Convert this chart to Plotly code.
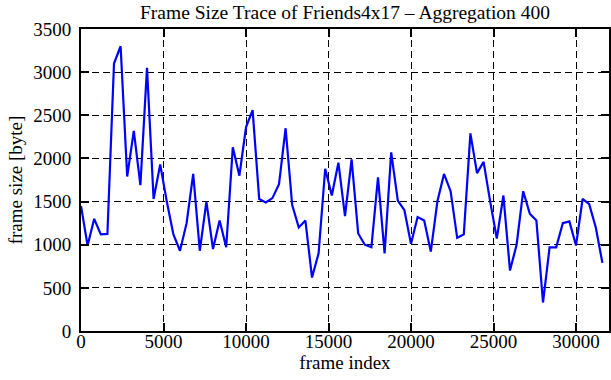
import plotly.graph_objects as go

frame_index = list(range(0, 32000, 400))
frame_size = [
    1450, 990, 1300, 1120, 1125, 3100, 3300, 1790, 2320, 1690,
    3050, 1530, 1930, 1500, 1120, 930, 1250, 1820, 930, 1500,
    950, 1280, 970, 2130, 1800, 2360, 2560, 1530, 1490, 1540,
    1700, 2350, 1460, 1200, 1280, 620, 900, 1880, 1570, 1950,
    1330, 1990, 1130, 1000, 970, 1780, 900, 2070, 1510, 1400,
    1010, 1320, 1280, 920, 1500, 1820, 1620, 1080, 1120, 2290,
    1830, 1960, 1500, 1070, 1570, 700, 1000, 1620, 1360, 1280,
    330, 970, 970, 1250, 1270, 990, 1530, 1470, 1200, 790,
]
x_ticks = [0, 5000, 10000, 15000, 20000, 25000, 30000]
x_tick_labels = ["0", "5000", "10000", "15000", "20000", "25000", "30000"]
y_ticks = [0, 500, 1000, 1500, 2000, 2500, 3000, 3500]
y_tick_labels = ["0", "500", "1000", "1500", "2000", "2500", "3000", "3500"]

title_text = "Frame Size Trace of Friends4x17 \u2013 Aggregation 400"
x_title = "frame index"
y_title = "frame size [byte]"

family = "Liberation Serif, Times New Roman, serif"
font = dict(family=family, size=19, color="black")
title_font = dict(family=family, size=19.5, color="black")

fig = go.Figure(go.Scatter(
    x=frame_index, y=frame_size, mode="lines",
    line=dict(color="#0000ff", width=2.2), showlegend=False,
))

axis_common = dict(
    showline=True, linecolor="black", linewidth=2, mirror="ticks",
    ticks="inside", ticklen=8, tickwidth=2, tickcolor="black",
    showgrid=True, gridcolor="black", gridwidth=1, griddash="7px,4px",
    zeroline=False, tickfont=font, automargin=False,
)

fig.update_layout(
    width=611, height=380,
    margin=dict(l=81, r=2, t=29, b=49),
    paper_bgcolor="white", plot_bgcolor="white",
    font=font,
    title=dict(text=title_text, x=0.5, xref="paper", xanchor="center",
               y=0.968, yanchor="middle", font=title_font),
    xaxis=dict(range=[0, 32000], tickvals=x_ticks, ticktext=x_tick_labels,
               ticklabelstandoff=-8,
               title=dict(text=x_title, standoff=0, font=font), **axis_common),
    yaxis=dict(range=[0, 3500], tickvals=y_ticks, ticktext=y_tick_labels,
               ticklabelstandoff=4,
               title=dict(text=y_title, standoff=6, font=font), **axis_common),
)

fig.write_html("out.html", config={"displayModeBar": False},
               post_script="document.body.style.margin='0';")
